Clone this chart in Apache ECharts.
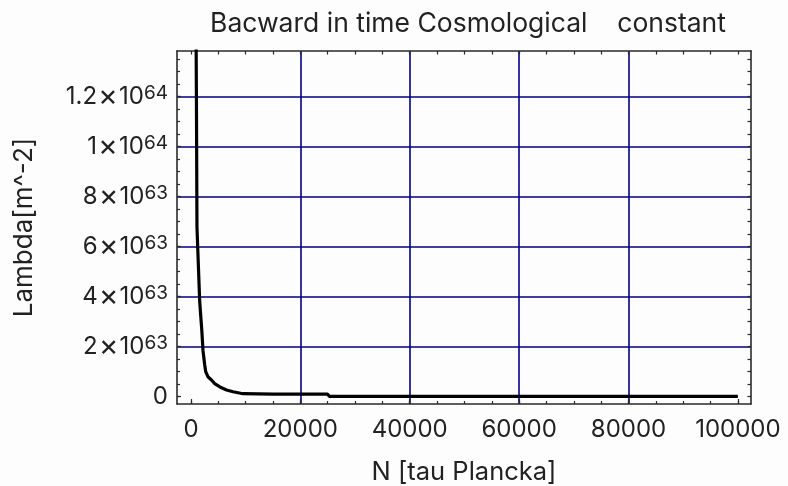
<!DOCTYPE html>
<html><head><meta charset="utf-8">
<script src="https://cdn.jsdelivr.net/npm/echarts@6/dist/echarts.min.js"></script>
<style>html,body{margin:0;padding:0;background:#fdfdfd}#c{width:788px;height:486px}</style>
</head><body><div id="c"></div>
<script>
const titleText = 'Bacward in time Cosmological    constant';
const xName = 'N [tau Plancka]';
const yName = 'Lambda[m^-2]';
// N values (tau Plancka) and Lambda values (m^-2)
const nValues = [700, 1000, 1100, 1400, 1600, 2000, 2200, 2500, 2700, 3100, 3800, 4400, 5300, 6500, 7700, 9500, 15000, 25000, 25300, 100000];
const lambdaValues = [2.4e64, 1.2e64, 6.8e63, 5.0e63, 3.8e63, 2.6e63, 1.85e63, 1.3e63, 1.0e63, 0.8e63, 0.66e63, 0.51e63, 0.39e63, 0.27e63, 0.2e63, 0.12e63, 0.105e63, 0.1e63, 0.012e63, 0.01e63];
// axis ticks
const xMajorTicks = [0, 20000, 40000, 60000, 80000, 100000];
const xGridTicks = [20000, 40000, 60000, 80000];
const yMajorTicks = [0, 2e63, 4e63, 6e63, 8e63, 1e64, 1.2e64];
const yGridTicks = [2e63, 4e63, 6e63, 8e63, 1e64, 1.2e64];
const xMinorStep = 5000, yMinorStep = 5e62;
const xRange = [-2550, 102400];
const yRange = [-2.92e62, 1.383e64];

const xMinorTicks = [];
for (let v = 0; v <= 100000; v += xMinorStep) xMinorTicks.push(v);
const yMinorTicks = [];
for (let k = 0; k * yMinorStep < yRange[1]; k++) yMinorTicks.push(k * yMinorStep);

const FONT = 'Inter';
const FS = 24;
const TXT = '#222';
const GRIDC = '#000080';
const FRAME = '#2a2a2a';

function fmtY(v) {
  if (Math.abs(v) < 1e50) return '{b|0}';
  const e = Math.floor(Math.log10(Math.abs(v)) + 1e-9);
  let m = v / Math.pow(10, e);
  m = Math.round(m * 10) / 10;
  return '{b|' + m + '}{x|×}{t|10}{s|' + e + '}';
}

const lineFrame = { show: true, onZero: false, lineStyle: { color: FRAME, width: 1.6 } };
const noLine = { show: false, onZero: false };
function tickAxis(kind, pos, values, len, withLine) {
  const range = kind === 'x' ? xRange : yRange;
  return {
    type: 'value', position: pos, min: range[0], max: range[1],
    axisLine: withLine ? lineFrame : noLine,
    axisTick: { show: true, inside: true, length: len, customValues: values, lineStyle: { color: FRAME, width: 1.2 } },
    axisLabel: { show: false }, splitLine: { show: false }
  };
}
function gridAxis(kind, pos, values) {
  const range = kind === 'x' ? xRange : yRange;
  return {
    type: 'value', position: pos, min: range[0], max: range[1],
    axisLine: noLine,
    axisTick: { show: false, customValues: values },
    axisLabel: { show: false },
    splitLine: { show: true, lineStyle: { color: GRIDC, width: 1.6 } }
  };
}

const chart = echarts.init(document.getElementById('c'));
chart.setOption({
  backgroundColor: '#fdfdfd',
  animation: false,
  title: {
    text: titleText, left: 468, top: 11, padding: 0, textAlign: 'center',
    textStyle: { fontFamily: FONT, fontSize: 26.5, fontWeight: 'normal', color: TXT }
  },
  grid: { left: 177, right: 37, top: 51, bottom: 82, containLabel: false, outerBoundsMode: 'none' },
  xAxis: [
    {
      type: 'value', position: 'bottom', min: xRange[0], max: xRange[1],
      name: xName, nameLocation: 'middle', nameGap: 55,
      nameTextStyle: { fontFamily: FONT, fontSize: 25.5, color: TXT },
      axisLine: lineFrame,
      axisTick: { show: true, inside: true, length: 5, customValues: xMajorTicks, lineStyle: { color: FRAME, width: 1.2 } },
      axisLabel: { margin: 14, fontFamily: FONT, fontSize: FS, color: TXT, customValues: xMajorTicks,
        formatter: v => String(Math.round(v)) },
      splitLine: { show: false }
    },
    tickAxis('x', 'bottom', xMinorTicks, 3, false),
    tickAxis('x', 'top', xMinorTicks, 3.5, true),
    gridAxis('x', 'bottom', xGridTicks)
  ],
  yAxis: [
    {
      type: 'value', position: 'left', min: yRange[0], max: yRange[1],
      name: yName, nameLocation: 'middle', nameGap: 140, nameRotate: 90,
      nameTextStyle: { fontFamily: FONT, fontSize: 26, color: TXT },
      axisLine: lineFrame,
      axisTick: { show: true, inside: true, length: 4, customValues: yMajorTicks, lineStyle: { color: FRAME, width: 1.2 } },
      axisLabel: { margin: 9, customValues: yMajorTicks, formatter: fmtY,
        rich: {
          b: { fontFamily: FONT, fontSize: FS, color: TXT, lineHeight: 26 },
          x: { fontFamily: FONT, fontSize: 30, color: TXT, lineHeight: 26, padding: [0, 6, 0, 1] },
          t: { fontFamily: FONT, fontSize: FS, color: TXT, lineHeight: 26, width: 20 },
          s: { fontFamily: FONT, fontSize: 19, color: TXT, lineHeight: 9, verticalAlign: 'top' }
        } },
      splitLine: { show: false }
    },
    tickAxis('y', 'left', yMinorTicks, 3, false),
    tickAxis('y', 'right', yMinorTicks, 3.5, true),
    gridAxis('y', 'left', yGridTicks)
  ],
  series: [{
    type: 'line', xAxisIndex: 0, yAxisIndex: 0, showSymbol: false, clip: true, z: 10,
    data: nValues.map((n, i) => [n, lambdaValues[i]]),
    lineStyle: { color: '#000', width: 3.2 }
  }]
});
</script></body></html>
